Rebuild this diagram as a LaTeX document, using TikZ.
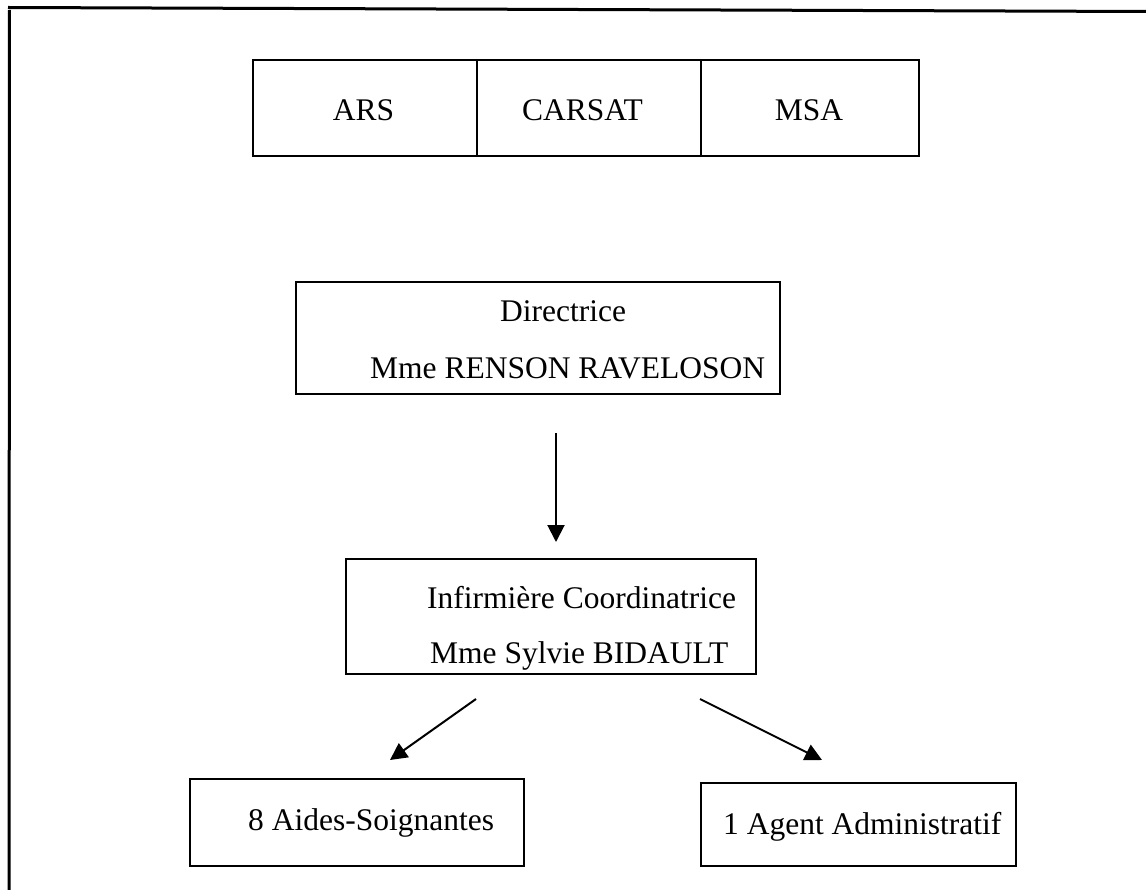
\documentclass[tikz,border=0pt]{standalone}
\usepackage{fontspec}
\setmainfont{Liberation Serif}
\usetikzlibrary{arrows.meta}
\tikzset{
  box/.style={draw=black, line width=2pt, rectangle, inner sep=0pt, anchor=north west},
  lbl/.style={inner sep=0pt, anchor=base west, font=\fontsize{31.5}{38}\selectfont},
  clbl/.style={inner sep=0pt, anchor=base, font=\fontsize{31.5}{38}\selectfont},
  arr/.style={line width=2pt, -{Triangle[length=17pt,width=17pt]}},
  frame/.style={line width=3pt}
}
\begin{document}
\begin{tikzpicture}[x=1pt,y=-1pt]
\useasboundingbox (0,0) rectangle (1146,890);
% outer frame (cropped page)
\coordinate (ftl) at (8,7.5);
\coordinate (ftr) at (1146,11.5);
\coordinate (flt) at (9.5,10);
\coordinate (flb) at (9,890);
\draw[frame] (ftl) -- (ftr);
\draw[frame] (flt) -- (flb);
% top table
\node[box, minimum width=224pt, minimum height=96pt] (ars) at (252,59) {};
\node[box, minimum width=224pt, minimum height=96pt] (carsat) at (476,59) {};
\node[box, minimum width=218pt, minimum height=96pt] (msa) at (700,59) {};
\node[clbl] (tars) at (363.5,121) {ARS};
\node[clbl] (tcarsat) at (582.5,121) {CARSAT};
\node[clbl] (tmsa) at (809,121) {MSA};
% Directrice
\node[box, minimum width=484pt, minimum height=112pt] (dir) at (295,281) {};
\node[lbl] (tdir1) at (500,322) {Directrice};
\node[lbl] (tdir2) at (370,379) {Mme RENSON RAVELOSON};
% Infirmiere
\node[box, minimum width=410pt, minimum height=115pt] (inf) at (345,558) {};
\node[lbl] (tinf1) at (427,608) {Infirmière Coordinatrice};
\node[lbl] (tinf2) at (430,663) {Mme Sylvie BIDAULT};
% bottom boxes
\node[box, minimum width=334pt, minimum height=87pt] (aides) at (189,778) {};
\node[lbl] (taides) at (248,830) {8 Aides-Soignantes};
\node[box, minimum width=315pt, minimum height=83pt] (agent) at (700,782) {};
\node[lbl] (tagent) at (723,834) {1 Agent Administratif};
% arrows
\coordinate (a1s) at (556,433);
\coordinate (a1e) at (556,542);
\coordinate (a2s) at (476,699);
\coordinate (a2e) at (390,760);
\coordinate (a3s) at (700,699);
\coordinate (a3e) at (822,760);
\draw[arr] (a1s) -- (a1e);
\draw[arr] (a2s) -- (a2e);
\draw[arr] (a3s) -- (a3e);
\end{tikzpicture}
\end{document}
